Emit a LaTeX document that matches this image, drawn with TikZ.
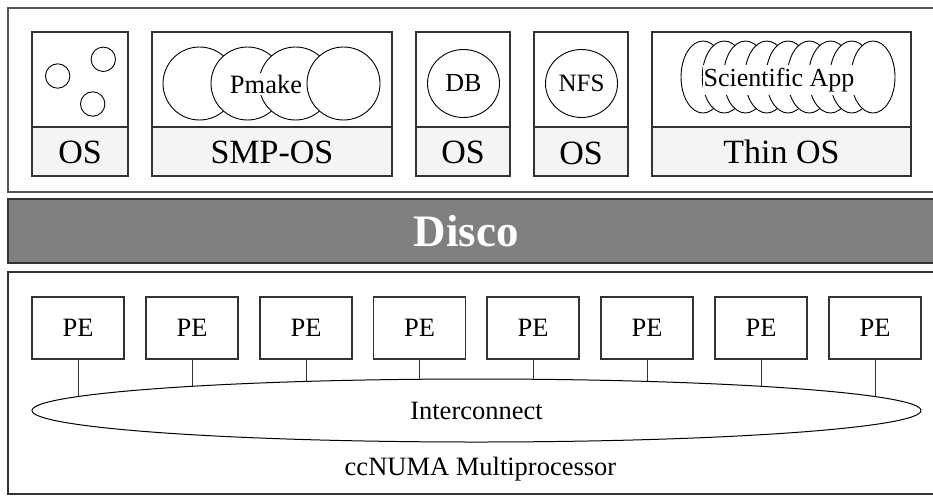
\documentclass[tikz,border=0pt]{standalone}
\usepackage{fontspec}
\setmainfont{Liberation Serif}
\usetikzlibrary{shapes.geometric}
\definecolor{lowfill}{HTML}{F4F4F4}
\definecolor{bandfill}{HTML}{808080}
\definecolor{edge}{HTML}{333333}
\definecolor{outeredge}{HTML}{555555}
\begin{document}
\begin{tikzpicture}[x=1pt,y=-1pt,
  outerbox/.style={draw=outeredge,line width=2.3pt},
  basebox/.style={draw=edge,line width=1.2pt},
  innerbox/.style={draw=edge,line width=1.1pt},
  lowerbox/.style={draw=edge,line width=1.1pt,fill=lowfill},
  smalltxt/.style={font=\fontsize{26.5}{30}\selectfont,inner sep=1pt},
  bigtxt/.style={font=\fontsize{34}{40}\selectfont},
  bubble/.style={draw=black,line width=0.9pt,fill=white},
  pebox/.style={draw=edge,line width=1.1pt,minimum width=92,minimum height=62,inner sep=0pt,font=\fontsize{26.5}{30}\selectfont},
  link/.style={draw=edge,line width=1pt}]
\useasboundingbox (0,0) rectangle (933,496);
\clip (0,0) rectangle (933,496);
\fill[white] (0,0) rectangle (933,496);

% ---------- top area ----------
\draw[outerbox] (8,8) rectangle (950,192);

% OS box 1
\draw[innerbox] (32,32) rectangle (128,127);
\draw[lowerbox] (32,127) rectangle (128,176);
\node[bigtxt] (os1) at (80,152) {OS};
\draw[bubble] (57.7,76) circle (12.2);
\draw[bubble] (103.3,59.3) circle (12.2);
\draw[bubble] (92.7,104) circle (12.2);

% SMP box
\draw[innerbox] (152,32) rectangle (392,127);
\draw[lowerbox] (152,127) rectangle (392,176);
\node[bigtxt] (smpos) at (272,152) {SMP-OS};
\draw[bubble] (199.5,83.5) circle (36.5);
\draw[bubble] (247.5,83.5) circle (36.5);
\draw[bubble] (295.5,83.5) circle (36.5);
\draw[bubble] (343.5,83.5) circle (36.5);
\node[smalltxt,fill=white,inner xsep=0.5pt,inner ysep=2pt] (pmake) at (266,84) {Pmake};

% DB box
\draw[innerbox] (416,32) rectangle (510,127);
\draw[lowerbox] (416,127) rectangle (510,176);
\node[bigtxt] (os2) at (463,152) {OS};
\node[bubble,ellipse,minimum width=72,minimum height=68,inner sep=0pt,font=\fontsize{26}{30}\selectfont] (db) at (463.5,83.5) {DB};

% NFS box
\draw[innerbox] (534,32) rectangle (628,127);
\draw[lowerbox] (534,127) rectangle (628,176);
\node[bigtxt] (os3) at (581,153) {OS};
\node[bubble,ellipse,minimum width=72,minimum height=68,inner sep=0pt,font=\fontsize{25}{30}\selectfont] (nfs) at (581.5,83.5) {NFS};

% Thin OS box
\draw[innerbox] (652,32) rectangle (911,127);
\draw[lowerbox] (652,127) rectangle (911,176);
\node[bigtxt] (thinos) at (781.5,152) {Thin OS};
\foreach \k in {0,...,8} {
  \draw[bubble] ({703+\k*21.25},77) ellipse (22 and 36);
}
\node[font=\fontsize{26}{30}\selectfont,fill=white,inner xsep=0.5pt,inner ysep=3pt] (sciapp) at (779,80) {Scientific App};

% ---------- Disco band ----------
\draw[draw=edge,line width=2pt,fill=bandfill] (8,199) rectangle (950,263);
\node[text=white,font=\fontsize{45}{50}\selectfont\bfseries] (disco) at (466,231) {Disco};

% ---------- bottom area ----------
\draw[basebox] (8,272) rectangle (950,494);
\coordinate (icc) at (476.5,410.5);
\foreach \i/\x in {1/78,2/192,3/306,4/419.5,5/533,6/647,7/761,8/875} {
  \node[pebox] (pe\i) at (\x,328) {PE};
  \draw[link] (pe\i.south) -- (pe\i.south |- icc);
}
\node[draw=black,line width=1pt,ellipse,fill=white,minimum width=889,minimum height=63,inner sep=0pt,font=\fontsize{26.5}{30}\selectfont] (ic) at (icc) {Interconnect};
\node[font=\fontsize{26.5}{30}\selectfont] (ccnuma) at (480.5,469) {ccNUMA Multiprocessor};
\end{tikzpicture}
\end{document}
